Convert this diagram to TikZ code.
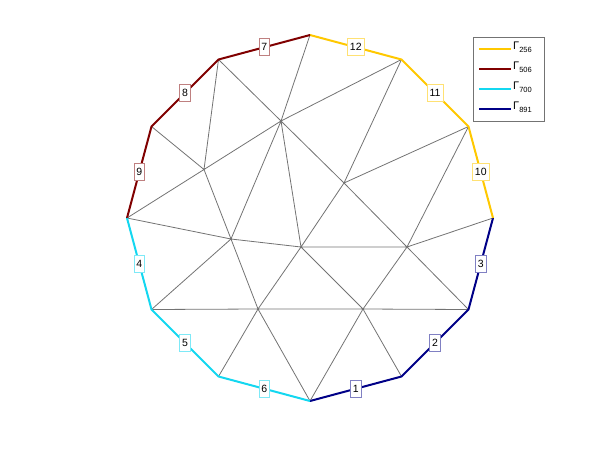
\documentclass[tikz,border=0pt]{standalone}
\usepackage{fontspec}
\setmainfont{Liberation Sans}
\definecolor{cgold}{RGB}{255,200,0}
\definecolor{cdred}{RGB}{128,0,0}
\definecolor{ccyan}{RGB}{20,215,240}
\definecolor{cnavy}{RGB}{0,0,135}
\definecolor{meshgray}{RGB}{115,115,115}
\tikzset{
  mesh/.style={draw=meshgray, line width=0.8pt},
  bnd/.style={line width=2pt},
  lbl/.style={draw, fill=white, line width=0.7pt, inner xsep=2.4pt, inner ysep=0pt,
     minimum height=17pt, text=black, font=\fontsize{10.5}{12}\selectfont},
  legline/.style={line width=2pt},
  legtxt/.style={anchor=base west, inner sep=0pt, text=black}
}
\newcommand{\gam}[1]{{\fontsize{11}{13}\selectfont Γ}\raisebox{-3pt}{\fontsize{7.5}{8}\selectfont #1}}
\begin{document}
\begin{tikzpicture}[x=1pt,y=-1pt]
\useasboundingbox (0,0) rectangle (600,451);
% boundary vertices
\coordinate (B0) at (310,401);
\coordinate (B1) at (401.5,376.5);
\coordinate (B2) at (468.5,309.5);
\coordinate (B3) at (493,218);
\coordinate (B4) at (468.5,126.5);
\coordinate (B5) at (401.5,59.5);
\coordinate (B6) at (310,35);
\coordinate (B7) at (218.5,59.5);
\coordinate (B8) at (151.5,126.5);
\coordinate (B9) at (127,218);
\coordinate (B10) at (151.5,309.5);
\coordinate (B11) at (218.5,376.5);
% interior vertices
\coordinate (I1) at (281,121);
\coordinate (I2) at (204,169.5);
\coordinate (I3) at (344,183);
\coordinate (I4) at (231,239);
\coordinate (I5) at (301,247);
\coordinate (I6) at (258,309);
\coordinate (I8) at (407,247);
\coordinate (I9) at (363,309);
% mesh
\draw[mesh] (B7)--(I1) (B7)--(I2) (B8)--(I2) (B9)--(I2) (I2)--(I1) (B6)--(I1)
  (B5)--(I1) (I1)--(I3) (I1)--(I5) (I1)--(I4) (I2)--(I4) (I4)--(I5) (B9)--(I4)
  (I5)--(I8) (I3)--(I8) (I8)--(B2) (I3)--(B4) (I3)--(I5) (B5)--(I3) (B4)--(I8)
  (B3)--(I8) (I5)--(I9) (I8)--(I9) (I9)--(B2) (I9)--(B1) (I9)--(B0) (I9)--(I6)
  (I6)--(B10) (I6)--(I4) (I6)--(I5) (I6)--(B11) (I6)--(B0) (B10)--(I4);
% boundary
\draw[bnd, cnavy] (B0)--(B1)--(B2)--(B3);
\draw[bnd, cgold] (B3)--(B4)--(B5)--(B6);
\draw[bnd, cdred] (B6)--(B7)--(B8)--(B9);
\draw[bnd, ccyan] (B9)--(B10)--(B11)--(B0);
% labels
\path (B0)--(B1) node[lbl, draw=cnavy!50!white, midway] (L1) {1};
\path (B1)--(B2) node[lbl, draw=cnavy!50!white, midway] (L2) {2};
\path (B2)--(B3) node[lbl, draw=cnavy!50!white, midway] (L3) {3};
\path (B9)--(B10) node[lbl, draw=ccyan!55!white, midway] (L4) {4};
\path (B10)--(B11) node[lbl, draw=ccyan!55!white, midway] (L5) {5};
\path (B11)--(B0) node[lbl, draw=ccyan!55!white, midway] (L6) {6};
\path (B6)--(B7) node[lbl, draw=cdred!50!white, midway] (L7) {7};
\path (B7)--(B8) node[lbl, draw=cdred!50!white, midway] (L8) {8};
\path (B8)--(B9) node[lbl, draw=cdred!50!white, midway] (L9) {9};
\path (B3)--(B4) node[lbl, draw=cgold!55!white, midway] (L10) {10};
\path (B4)--(B5) node[lbl, draw=cgold!55!white, midway] (L11) {11};
\path (B5)--(B6) node[lbl, draw=cgold!55!white, midway] (L12) {12};
% legend
\node[draw=black!55, fill=white, line width=0.7pt, minimum width=71pt, minimum height=84pt, inner sep=0pt, anchor=north west] (leg) at (473,37) {};
\coordinate (a1) at (479,49); \coordinate (b1) at (511,49);
\coordinate (a2) at (479,69); \coordinate (b2) at (511,69);
\coordinate (a3) at (479,89); \coordinate (b3) at (511,89);
\coordinate (a4) at (479,109); \coordinate (b4) at (511,109);
\draw[legline, cgold] (a1)--(b1);
\draw[legline, cdred] (a2)--(b2);
\draw[legline, ccyan] (a3)--(b3);
\draw[legline, cnavy] (a4)--(b4);
\node[legtxt] (t1) at (513,49.5) {\gam{256}};
\node[legtxt] (t2) at (513,69.5) {\gam{506}};
\node[legtxt] (t3) at (513,89.5) {\gam{700}};
\node[legtxt] (t4) at (513,109.5) {\gam{891}};
\end{tikzpicture}
\end{document}
